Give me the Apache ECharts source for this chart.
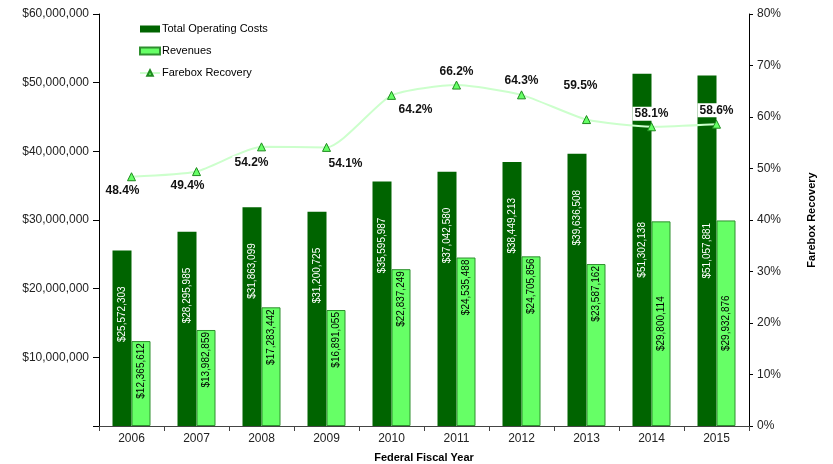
<!DOCTYPE html>
<html>
<head>
<meta charset="utf-8">
<script src="https://cdn.jsdelivr.net/npm/echarts@6/dist/echarts.min.js"></script>
<style>
html,body{margin:0;padding:0;background:#fff;overflow:hidden;}
#chart{width:833px;height:464px;}
</style>
</head>
<body>
<div id="chart"></div>
<script>
var years = ['2006','2007','2008','2009','2010','2011','2012','2013','2014','2015'];
var operatingCosts = [25572303, 28295985, 31863099, 31200725, 35595987, 37042580, 38449213, 39636508, 51302138, 51057881];
var revenues = [12365612, 13982859, 17283442, 16891055, 22837249, 24535488, 24705856, 23587162, 29800114, 29932876];
var fareboxRecovery = [48.4, 49.4, 54.2, 54.1, 64.2, 66.2, 64.3, 59.5, 58.1, 58.6];

// layout only: label offsets for the farebox labels, centred bar labels
var pctLabelOffsets = [[-9,14],[-9,14],[-10,16],[19,16],[24,14],[0,-13],[0,-14],[-6,-34],[0,-13],[0,-14]];
var centeredBarLabel = [false,false,false,false,false,false,false,false,true,true];

var FONT = '"Liberation Sans", Arial, sans-serif';
function money(v){ return '$' + Math.round(v).toLocaleString('en-US'); }

function barItems(values, topDistance){
  return values.map(function(v, i){
    if (centeredBarLabel[i]) {
      return {value: v, label: {position: 'inside', align: 'center', verticalAlign: 'middle'}};
    }
    return {value: v, label: {position: 'insideTop', distance: topDistance, align: 'right', verticalAlign: 'middle'}};
  });
}

var chart = echarts.init(document.getElementById('chart'), null, {renderer: 'canvas', width: 833, height: 464});
chart.setOption({
  animation: false,
  backgroundColor: '#fff',
  textStyle: {fontFamily: FONT},
  grid: {left: 99, top: 14, width: 650, height: 412, containLabel: false, outerBoundsMode: 'none'},
  legend: {
    orient: 'vertical',
    left: 134, top: 17,
    itemWidth: 20, itemHeight: 7, itemGap: 8,
    textStyle: {fontFamily: FONT, fontSize: 11, color: '#000', lineHeight: 14, padding: [0, 0, 0, -3]},
    data: [
      {name: 'Total Operating Costs', icon: 'rect'},
      {name: 'Revenues', icon: 'rect'},
      {name: 'Farebox Recovery'}
    ]
  },
  xAxis: {
    type: 'category',
    data: years,
    name: 'Federal Fiscal Year',
    nameLocation: 'middle',
    nameGap: 26,
    nameTextStyle: {fontFamily: FONT, fontSize: 11, fontWeight: 'bold', color: '#000'},
    axisLine: {lineStyle: {color: '#444', width: 1}},
    axisTick: {show: true, alignWithLabel: false, length: 5, lineStyle: {color: '#444'}},
    axisLabel: {fontFamily: FONT, fontSize: 12, color: '#222', margin: 7}
  },
  yAxis: [
    {
      type: 'value', min: 0, max: 60000000, interval: 10000000,
      splitLine: {show: false},
      axisLine: {show: true, lineStyle: {color: '#000'}},
      axisTick: {show: true, length: 6, lineStyle: {color: '#000'}},
      axisLabel: {fontFamily: FONT, fontSize: 12, color: '#222', margin: 10, formatter: function(v){ return v === 0 ? '' : money(v); }}
    },
    {
      type: 'value', min: 0, max: 80, interval: 10, position: 'right',
      name: 'Farebox Recovery',
      nameLocation: 'middle', nameRotate: 90, nameGap: 57,
      nameTextStyle: {fontFamily: FONT, fontSize: 11, fontWeight: 'bold', color: '#000'},
      splitLine: {show: false},
      axisLine: {show: true, lineStyle: {color: '#000'}},
      axisTick: {show: true, length: 4, lineStyle: {color: '#000'}},
      axisLabel: {fontFamily: FONT, fontSize: 12, color: '#222', margin: 8, formatter: '{value}%'}
    }
  ],
  series: [
    {
      name: 'Total Operating Costs',
      type: 'bar',
      yAxisIndex: 0,
      barWidth: 19,
      barGap: '0%',
      itemStyle: {color: '#006400'},
      label: {show: true, rotate: 90, color: '#fff', fontSize: 10, fontFamily: FONT, formatter: function(p){ return money(p.value); }},
      data: barItems(operatingCosts, 36)
    },
    {
      name: 'Revenues',
      type: 'bar',
      yAxisIndex: 0,
      barWidth: 19,
      itemStyle: {color: '#66ff66', borderColor: '#2f8f2f', borderWidth: 1},
      label: {show: true, rotate: 90, color: '#000', fontSize: 10, fontFamily: FONT, formatter: function(p){ return money(p.value); }},
      data: barItems(revenues, 2)
    },
    {
      name: 'Farebox Recovery',
      type: 'line',
      yAxisIndex: 1,
      z: 10,
      smooth: 0.2,
      symbol: 'triangle',
      symbolSize: 8,
      lineStyle: {color: '#ccffcc', width: 2},
      itemStyle: {color: '#66ff66', borderColor: '#1f8a1f', borderWidth: 1},
      label: {show: false},
      data: fareboxRecovery.map(function(v, i){
        return {value: v, label: {show: true, position: 'inside', offset: pctLabelOffsets[i],
          formatter: v.toFixed(1) + '%', fontFamily: FONT, fontSize: 12, fontWeight: 'bold', color: '#111',
          backgroundColor: '#fff', padding: [1, 2]}};
      })
    }
  ]
});
</script>
</body>
</html>
